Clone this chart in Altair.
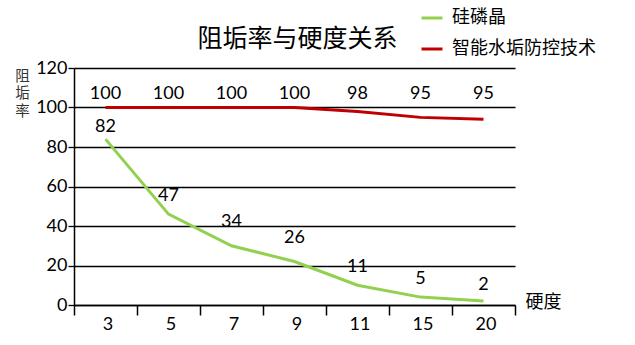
import altair as alt
import pandas as pd

# ---- data ----
hardness = ["3", "5", "7", "9", "11", "15", "20"]
series_names = ["硅磷晶", "智能水垢防控技术"]
green_line = [84, 46, 30, 22, 10, 4, 2]
green_labels = [82, 47, 34, 26, 11, 5, 2]
red_line = [100, 100, 100, 100, 98, 95, 94]
red_labels = [100, 100, 100, 100, 98, 95, 95]
y_ticks = [0, 20, 40, 60, 80, 100, 120]
colors = ["#92D050", "#C00000"]

rows = []
for i, h in enumerate(hardness):
    rows.append({"硬度": h, "series": series_names[0], "rate": green_line[i], "label": green_labels[i]})
    rows.append({"硬度": h, "series": series_names[1], "rate": red_line[i], "label": red_labels[i]})
df = pd.DataFrame(rows)

CJK = "Noto Sans CJK SC"
NUM = "Lato"

x_axis = alt.Axis(
    title="硬度", titleFont=CJK, titleFontSize=18, titleFontWeight="normal",
    titleColor="black", titleX=451, titleY=-3, titleAlign="left",
    titleBaseline="middle", titleAngle=0,
    labelAngle=0, labelFont=NUM, labelFontSize=18, labelColor="black",
    labelPadding=0, labelOffset=2, tickBand="extent", tickSize=10,
    tickColor="black", tickWidth=1.5, domainColor="black", domainWidth=1.5,
    grid=False,
)
y_axis = alt.Axis(
    values=y_ticks, title=["阻", "垢", "率"], titleAngle=0, titleX=-52,
    titleY=1, titleAlign="center", titleBaseline="top", titleFont=CJK,
    titleFontSize=14.5, titleFontWeight="normal", titleColor="#333333",
    titleLineHeight=17.5,
    grid=True, gridColor="black", gridWidth=1.3, gridOpacity=1,
    tickSize=6, tickColor="black", tickWidth=1.3,
    domainColor="black", domainWidth=1.5,
    labelFont=NUM, labelFontSize=18, labelColor="black", labelPadding=1,
    labelOverlap=False,
)

x_scale = alt.Scale(type="band", paddingInner=0, paddingOuter=0)
y_scale = alt.Scale(domain=[0, 120], nice=False, zero=True)

base = alt.Chart(df)

lines = base.mark_line(strokeWidth=3).encode(
    x=alt.X("硬度:N", sort=hardness, scale=x_scale, axis=x_axis),
    y=alt.Y("rate:Q", scale=y_scale, axis=y_axis),
    color=alt.Color(
        "series:N",
        scale=alt.Scale(domain=series_names, range=colors),
        legend=alt.Legend(
            orient="none", legendX=346, legendY=-62, title=None,
            symbolType="stroke", symbolStrokeWidth=3, symbolSize=441,
            labelFont=CJK, labelFontSize=18, labelColor="black",
            labelOffset=8, rowPadding=10, padding=0,
        ),
    ),
)

green_text = base.transform_filter(
    alt.datum.series == series_names[0]
).mark_text(font=NUM, fontSize=18, color="black", dy=-16).encode(
    x=alt.X("硬度:N", sort=hardness, scale=x_scale, axis=x_axis),
    y=alt.Y("label:Q", scale=y_scale, axis=y_axis),
    text="label:Q",
)

red_text = base.transform_filter(
    alt.datum.series == series_names[1]
).transform_joinaggregate(
    top="max(rate)"
).mark_text(font=NUM, fontSize=18, color="black", dy=-14).encode(
    x=alt.X("硬度:N", sort=hardness, scale=x_scale, axis=x_axis),
    y=alt.Y("top:Q", scale=y_scale, axis=y_axis),
    text="label:Q",
)

chart = alt.layer(lines, green_text, red_text).properties(
    width=441,
    height=237,
    padding={"left": 74, "top": 68, "right": 120, "bottom": 40},
    autosize="none",
    background="white",
    title=alt.Title(
        "阻垢率与硬度关系", font=CJK, fontSize=25, fontWeight="normal",
        color="black", anchor="middle", frame="group", offset=14, dx=3, dy=60,
    ),
).configure_view(stroke=None)

chart.save("out.html", embed_options={"renderer": "svg", "actions": False})
